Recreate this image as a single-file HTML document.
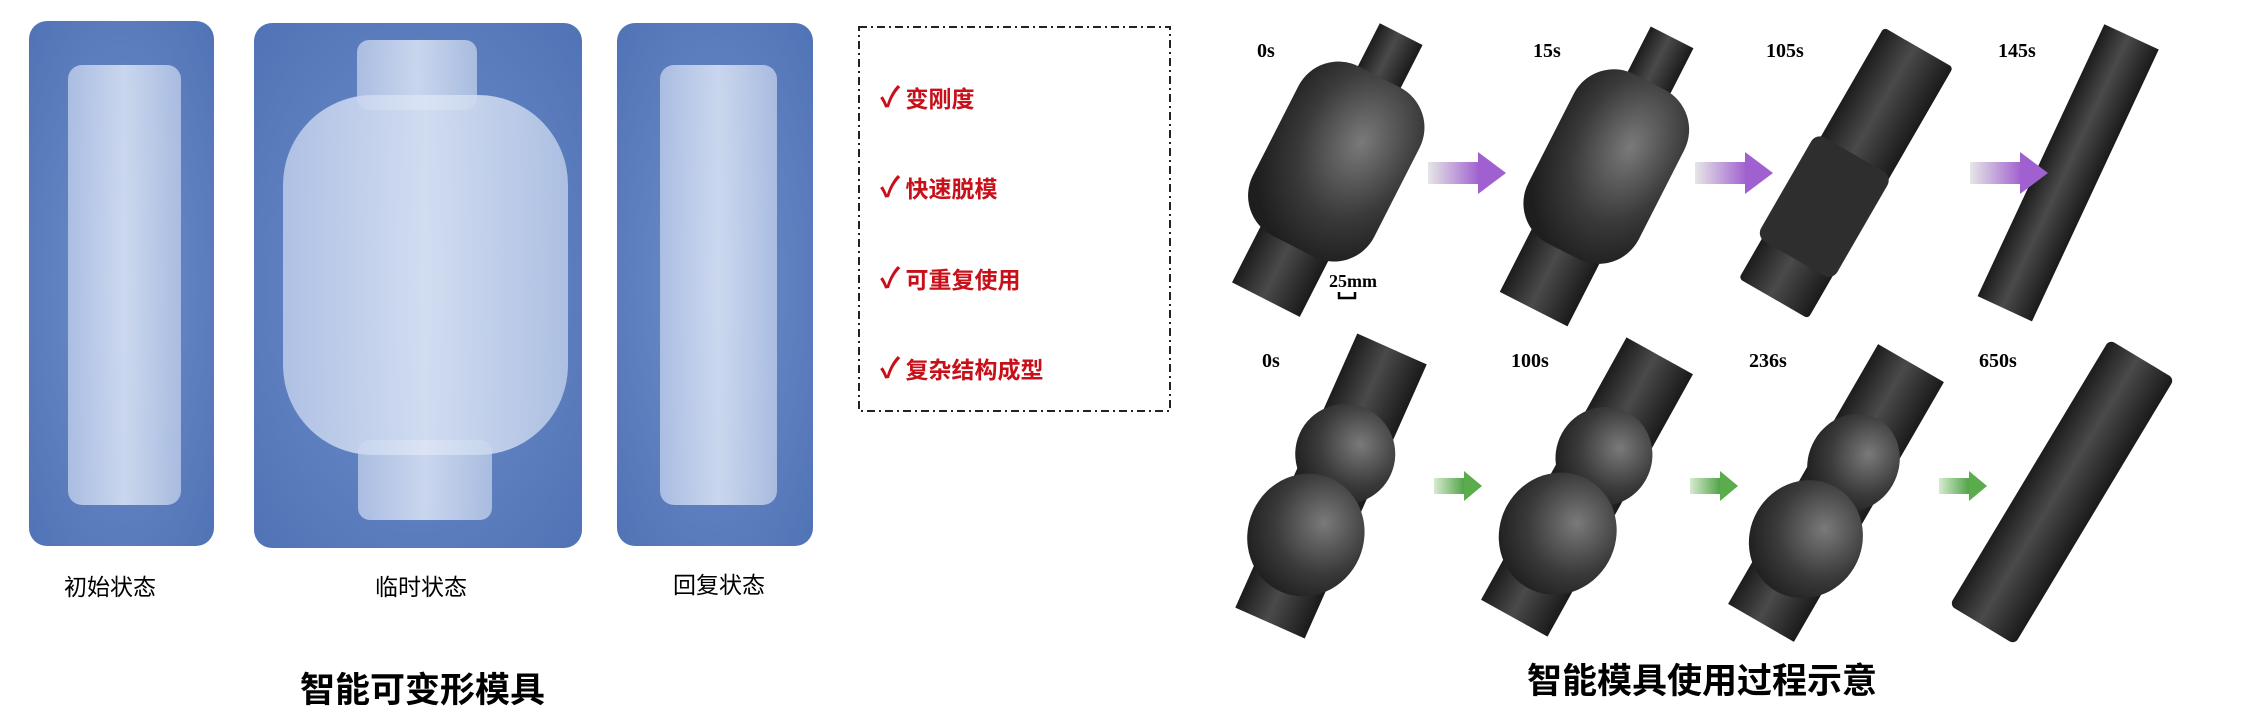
<!DOCTYPE html>
<html><head><meta charset="utf-8"><style>
body{margin:0;width:2244px;height:716px;background:#fff;position:relative;overflow:hidden;font-family:"Liberation Sans","Noto Sans CJK SC",sans-serif}
.t{position:absolute;white-space:nowrap}
.panel{position:absolute;border-radius:18px;background:radial-gradient(ellipse at 50% 50%,#7090cb,#5073b6)}
.cn{font-family:"Noto Sans CJK SC",sans-serif}
.red{color:#c8101a;font-size:23px;font-weight:bold}
</style></head><body>
<div class="panel" style="left:29px;top:21px;width:185px;height:525px"></div>
<div class="panel" style="left:254px;top:23px;width:328px;height:525px"></div>
<div class="panel" style="left:617px;top:23px;width:196px;height:523px"></div>
<svg style="position:absolute;left:0;top:0" width="860" height="560">
<defs><linearGradient id="g1" x1="0" x2="1"><stop offset="0" stop-color="#b8c8e8"/><stop offset=".5" stop-color="#dce5f5"/><stop offset="1" stop-color="#b6c7e6"/></linearGradient></defs>
<rect x="68" y="65" width="113" height="440" rx="14" fill="url(#g1)" opacity=".85"/>
<rect x="660" y="65" width="117" height="440" rx="14" fill="url(#g1)" opacity=".85"/>
<rect x="357" y="40" width="120" height="70" rx="12" fill="url(#g1)" opacity=".85"/>
<rect x="358" y="440" width="134" height="80" rx="12" fill="url(#g1)" opacity=".85"/>
<rect x="283" y="95" width="285" height="360" rx="90" fill="url(#g1)" opacity=".9"/>
</svg>
<div class="t cn" style="left:64px;top:568px;font-size:23px">初始状态</div>
<div class="t cn" style="left:375px;top:568px;font-size:23px">临时状态</div>
<div class="t cn" style="left:673px;top:566px;font-size:23px">回复状态</div>
<div class="t cn" style="left:300px;top:662px;font-size:35px;font-weight:bold">智能可变形模具</div>
<svg style="position:absolute;left:0;top:0" width="1200" height="450"><rect x="859" y="27" width="311" height="384" fill="none" stroke="#222" stroke-width="2" stroke-dasharray="8,4,2,4"/></svg>
<div class="t cn red" style="left:880px;top:76px"><span style="font-size:28px">✓</span> 变刚度</div>
<div class="t cn red" style="left:880px;top:166px"><span style="font-size:28px">✓</span> 快速脱模</div>
<div class="t cn red" style="left:880px;top:257px"><span style="font-size:28px">✓</span> 可重复使用</div>
<div class="t cn red" style="left:880px;top:347px"><span style="font-size:28px">✓</span> 复杂结构成型</div>
<svg style="position:absolute;left:0;top:0" width="2244" height="716">
<defs>
<linearGradient id="dk" x1="0" x2="1"><stop offset="0" stop-color="#1c1c1c"/><stop offset=".45" stop-color="#4a4a4a"/><stop offset="1" stop-color="#1a1a1a"/></linearGradient>
<radialGradient id="bd" cx=".6" cy=".35" r=".7"><stop offset="0" stop-color="#7a7a7a"/><stop offset=".6" stop-color="#3a3a3a"/><stop offset="1" stop-color="#1e1e1e"/></radialGradient>
<linearGradient id="pa" x1="0" x2="1"><stop offset="0" stop-color="#e6e6e6"/><stop offset="1" stop-color="#a060d0"/></linearGradient>
<linearGradient id="ga" x1="0" x2="1"><stop offset="0" stop-color="#d6ebd0"/><stop offset="1" stop-color="#4aa040"/></linearGradient>
<g id="parrow"><rect x="0" y="10" width="52" height="22" fill="url(#pa)"/><polygon points="50,0 78,21 50,42" fill="#a060d0"/></g>
<g id="garrow"><rect x="0" y="7" width="32" height="16" fill="url(#ga)"/><polygon points="30,0 48,15 30,30" fill="#5aac4c"/></g>
</defs>
<g transform="translate(1334,166) rotate(27)"><rect x="-24" y="-148" width="48" height="80" fill="url(#dk)"/><rect x="-38" y="60" width="76" height="90" fill="url(#dk)"/><rect x="-68" y="-100" width="136" height="190" rx="45" fill="url(#bd)"/></g>
<g transform="translate(1604,171) rotate(27)"><rect x="-24" y="-150" width="48" height="80" fill="url(#dk)"/><rect x="-38" y="60" width="76" height="95" fill="url(#dk)"/><rect x="-62" y="-100" width="124" height="190" rx="45" fill="url(#bd)"/></g>
<g transform="translate(1846,173) rotate(30)"><rect x="-40" y="-145" width="80" height="290" rx="4" fill="url(#dk)"/><rect x="-46" y="-20" width="88" height="120" rx="10" fill="#2e2e2e"/></g>
<g transform="translate(2069,171) rotate(25)"><rect x="-30" y="-148" width="60" height="300" fill="url(#dk)"/></g>
<g transform="translate(1331,486) rotate(24)"><rect x="-38" y="-150" width="76" height="300" fill="url(#dk)"/><ellipse cx="0" cy="-35" rx="50" ry="50" fill="url(#bd)"/><ellipse cx="-3" cy="55" rx="58" ry="62" fill="url(#bd)"/></g>
<g transform="translate(1587,487) rotate(29)"><rect x="-38" y="-150" width="76" height="300" fill="url(#dk)"/><ellipse cx="0" cy="-35" rx="48" ry="50" fill="url(#bd)"/><ellipse cx="-3" cy="55" rx="58" ry="62" fill="url(#bd)"/></g>
<g transform="translate(1836,493) rotate(30)"><rect x="-38" y="-150" width="76" height="300" fill="url(#dk)"/><ellipse cx="0" cy="-35" rx="45" ry="50" fill="url(#bd)"/><ellipse cx="-3" cy="55" rx="56" ry="60" fill="url(#bd)"/></g>
<g transform="translate(2062,492) rotate(31)"><rect x="-38" y="-155" width="76" height="310" rx="6" fill="url(#dk)"/></g>
<use href="#parrow" x="1428" y="152"/><use href="#parrow" x="1695" y="152"/><use href="#parrow" x="1970" y="152"/>
<use href="#garrow" x="1434" y="471"/><use href="#garrow" x="1690" y="471"/><use href="#garrow" x="1939" y="471"/>
<text x="1257" y="57" font-family="Liberation Serif" font-weight="bold" font-size="20">0s</text>
<text x="1533" y="57" font-family="Liberation Serif" font-weight="bold" font-size="20">15s</text>
<text x="1766" y="57" font-family="Liberation Serif" font-weight="bold" font-size="20">105s</text>
<text x="1998" y="57" font-family="Liberation Serif" font-weight="bold" font-size="20">145s</text>
<text x="1262" y="367" font-family="Liberation Serif" font-weight="bold" font-size="20">0s</text>
<text x="1511" y="367" font-family="Liberation Serif" font-weight="bold" font-size="20">100s</text>
<text x="1749" y="367" font-family="Liberation Serif" font-weight="bold" font-size="20">236s</text>
<text x="1979" y="367" font-family="Liberation Serif" font-weight="bold" font-size="20">650s</text>
<text x="1329" y="287" font-family="Liberation Serif" font-weight="bold" font-size="18">25mm</text>
<path d="M1339,292 v6 h16 v-6" stroke="#000" stroke-width="2.5" fill="none"/>
</svg>
<div class="t cn" style="left:1527px;top:653px;font-size:35px;font-weight:bold">智能模具使用过程示意</div>
</body></html>
